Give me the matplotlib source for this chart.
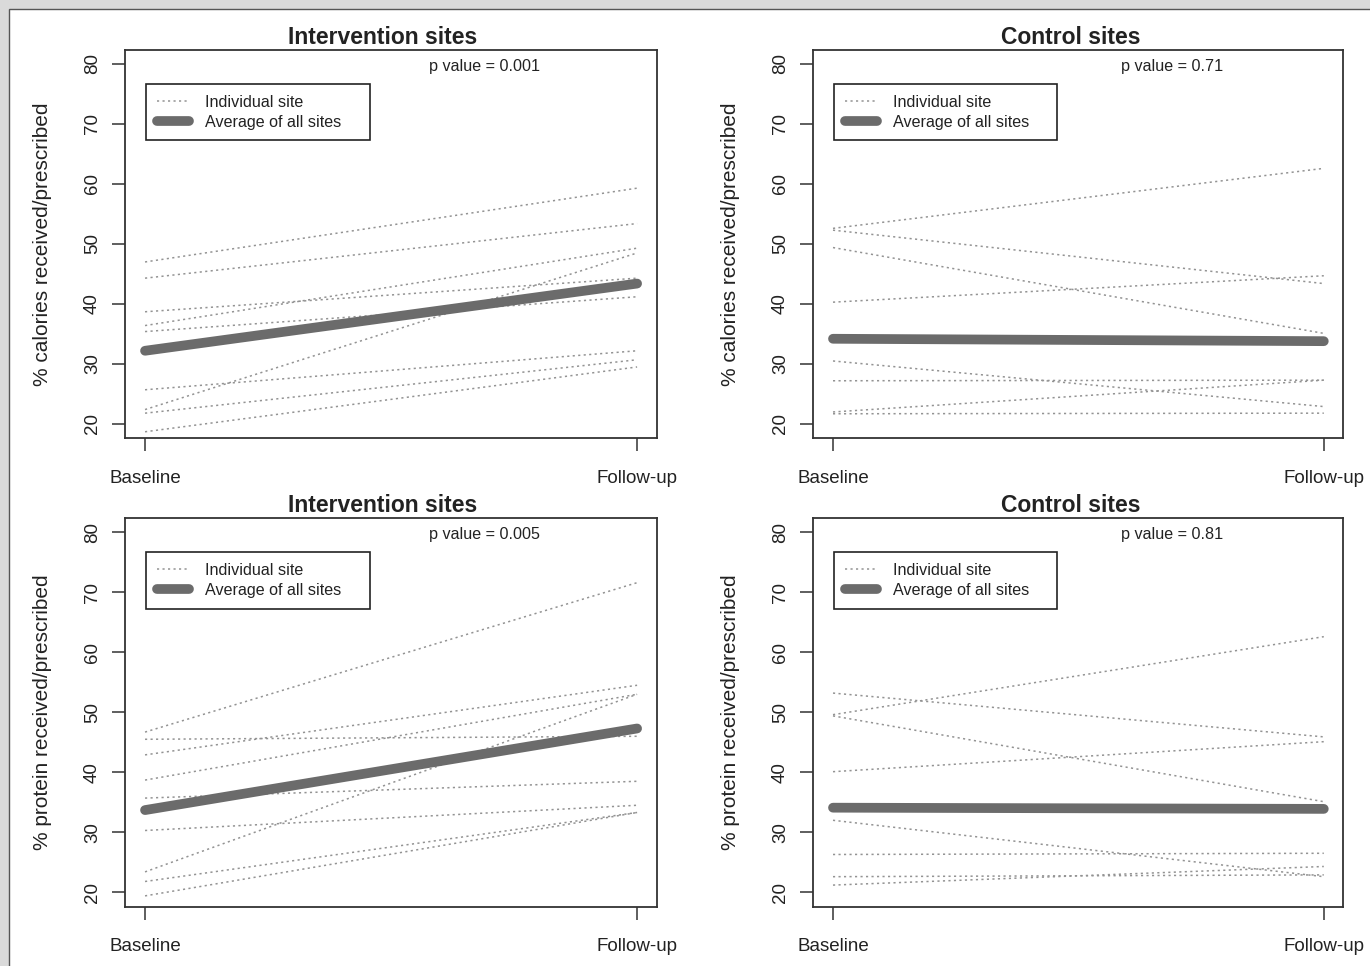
import numpy as np
import matplotlib.pyplot as plt
from matplotlib.patches import Rectangle

plt.rcParams['font.family'] = ['Liberation Sans', 'DejaVu Sans']

visits = ['Baseline', 'Follow-up']
visit_x = [1, 2]

# % calories received/prescribed, one pair per site
cal_int_base = [47.0, 44.3, 38.7, 36.4, 35.4, 25.7, 22.4, 21.8, 18.7]
cal_int_follow = [59.3, 53.4, 44.3, 49.3, 41.2, 32.2, 48.5, 30.7, 29.5]
cal_int_avg = [32.2, 43.4]

cal_ctl_base = [52.6, 52.3, 49.4, 40.3, 30.5, 27.2, 22.0, 21.7]
cal_ctl_follow = [62.6, 43.4, 35.1, 44.7, 22.9, 27.3, 27.3, 21.8]
cal_ctl_avg = [34.2, 33.8]

# % protein received/prescribed
pro_int_base = [46.7, 45.5, 42.9, 38.7, 35.7, 30.3, 23.4, 21.8, 19.4]
pro_int_follow = [71.6, 46.0, 54.5, 53.0, 38.5, 34.5, 53.0, 33.3, 33.3]
pro_int_avg = [33.7, 47.3]

pro_ctl_base = [49.6, 53.2, 49.4, 40.1, 32.0, 26.3, 22.6, 21.2]
pro_ctl_follow = [62.6, 45.9, 35.1, 45.1, 22.6, 26.5, 22.9, 24.3]
pro_ctl_avg = [34.1, 33.9]

p_values = ['0.001', '0.71', '0.005', '0.81']


def draw_panel(rect, base, follow, avg, title, ylabel, pval):
    ax = fig.add_axes(rect)
    for i, (b, f) in enumerate(zip(base, follow)):
        ax.plot(visit_x, [b, f], color='#939393', lw=1.1, linestyle=(0, (1.4, 2.2)),
                label='Individual site' if i == 0 else None)
    ax.plot(visit_x, avg, color='#6b6b6b', lw=7, solid_capstyle='round',
            label='Average of all sites')

    ax.set_xlim(0.96, 2.04)
    ax.set_ylim(17.6, 82.4)
    ax.set_xticks(visit_x)
    ax.set_xticklabels(visits)
    ax.set_yticks(np.arange(20, 81, 10))
    for lab in ax.get_yticklabels():
        lab.set_rotation(90)
        lab.set_va('center')
    ax.tick_params(axis='both', direction='out', length=9.5, width=1.1, color='#333333',
                   labelsize=13.5, labelcolor='#222222')
    ax.tick_params(axis='x', pad=13)
    ax.tick_params(axis='y', pad=8)
    for sp in ax.spines.values():
        sp.set_color('#333333')
        sp.set_linewidth(1.3)

    ax.set_ylabel(ylabel, fontsize=15, color='#222222', labelpad=23)
    ax.set_title(title, fontsize=16.5, fontweight='bold', color='#222222', x=0.485, pad=4)
    ax.text(0.676, 0.957, 'p value = ' + pval, transform=ax.transAxes, ha='center',
            va='center', fontsize=11.6, color='#222222')

    leg = ax.legend(loc='upper left', bbox_to_anchor=(0.039, 0.77, 0.4215, 0.1415),
                    mode='expand', borderaxespad=0, fontsize=11.6, handlelength=2.0,
                    handletextpad=1.0, labelspacing=0.32, borderpad=0.66,
                    fancybox=False, framealpha=1, edgecolor='#222222')
    leg.get_frame().set_linewidth(1.2)
    for t in leg.get_texts():
        t.set_color('#222222')
    return ax


fig = plt.figure(figsize=(13.7, 9.66), dpi=100, facecolor='#dadada')
fig.patches.append(Rectangle((9 / 1370, -0.05), 1.1, 957 / 966 + 0.05, transform=fig.transFigure,
                             facecolor='white', edgecolor='#555555', lw=1, zorder=-1))

left_l, left_r = 0.0915, 0.5937
w_l, w_r = 0.3879, 0.3869
top_b, bot_b, h = 0.5462, 0.0614, 0.4025

draw_panel([left_l, top_b, w_l, h], cal_int_base, cal_int_follow, cal_int_avg,
           'Intervention sites', '% calories received/prescribed', p_values[0])
draw_panel([left_r, top_b, w_r, h], cal_ctl_base, cal_ctl_follow, cal_ctl_avg,
           'Control sites', '% calories received/prescribed', p_values[1])
draw_panel([left_l, bot_b, w_l, h], pro_int_base, pro_int_follow, pro_int_avg,
           'Intervention sites', '% protein received/prescribed', p_values[2])
draw_panel([left_r, bot_b, w_r, h], pro_ctl_base, pro_ctl_follow, pro_ctl_avg,
           'Control sites', '% protein received/prescribed', p_values[3])

fig.savefig('out.png', dpi=100, facecolor=fig.get_facecolor())
